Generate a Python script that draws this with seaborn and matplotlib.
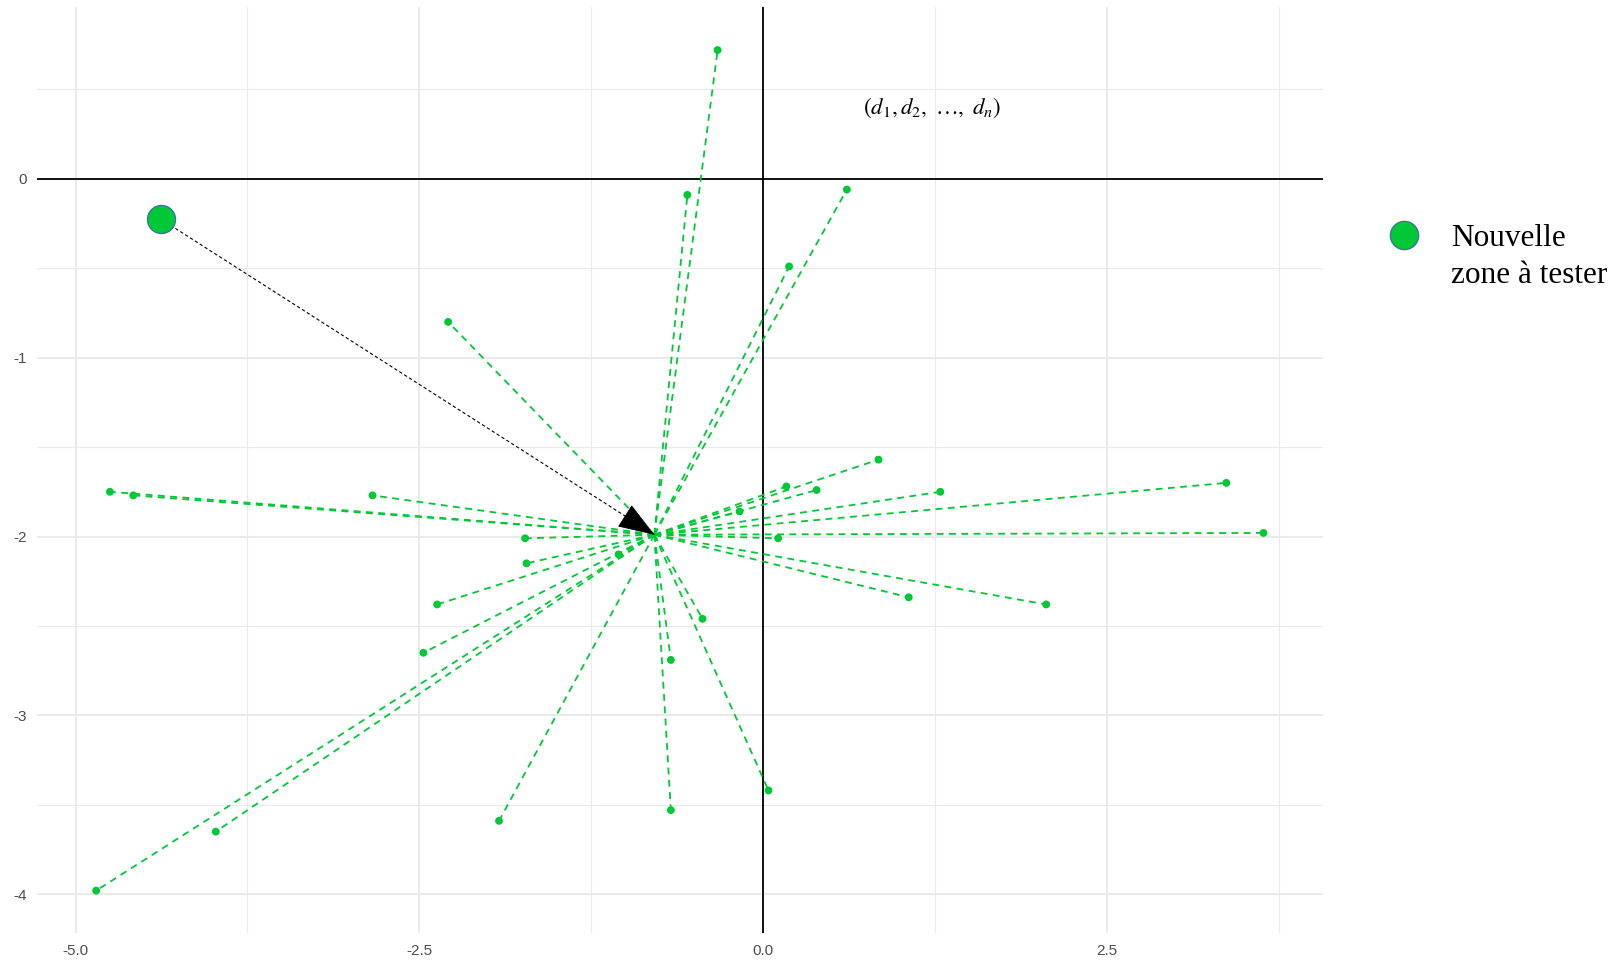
import matplotlib
matplotlib.use("Agg")
import matplotlib.pyplot as plt
from matplotlib.lines import Line2D
from matplotlib.ticker import FixedLocator
import numpy as np
import pandas as pd
import seaborn as sns

# Centre of the star: the projected position of the reference profile
hub_x = -0.79
hub_y = -1.99

# Observed zones (end of each distance segment)
zone_x = [-0.33, -0.55, 0.61, 0.19, -2.29, -4.75, -4.58, -2.84, 0.84, 0.17,
          0.39, 1.29, 3.37, -0.17, 3.64, 0.11, -1.73, -1.72, -1.05, 1.06,
          2.06, -2.37, -2.47, -0.44, -0.67, -3.98, -4.85, -1.92, -0.67, 0.04]
zone_y = [0.72, -0.09, -0.06, -0.49, -0.80, -1.75, -1.77, -1.77, -1.57, -1.72,
          -1.74, -1.75, -1.70, -1.86, -1.98, -2.01, -2.01, -2.15, -2.10, -2.34,
          -2.38, -2.38, -2.65, -2.46, -2.69, -3.65, -3.98, -3.59, -3.53, -3.42]

# New zone to be tested
new_x = -4.38
new_y = -0.225

label_text = r"$(d_1,d_2,\ \ldots,\ d_n)$"
label_x = 1.23
label_y = 0.40
legend_label = ["Nouvelle", "zone à tester"]

x_major = [-5.0, -2.5, 0.0, 2.5]
x_major_labels = ["-5.0", "-2.5", "0.0", "2.5"]
x_minor = [-3.75, -1.25, 1.25, 3.75]
y_major = [-4, -3, -2, -1, 0]
y_major_labels = ["-4", "-3", "-2", "-1", "0"]
y_minor = [-3.5, -2.5, -1.5, -0.5, 0.5]

GREEN = "#00C837"
EDGE = "#3F6DB0"
GRID = "#EBEAEB"

sns.set_style("white")
plt.rcParams["mathtext.fontset"] = "stix"

fig = plt.figure(figsize=(16.18, 9.61), dpi=100)
ax = fig.add_axes([0.0229, 0.0295, 0.7945, 0.9627])

# segments from the centre to every zone, in long form
seg = pd.DataFrame({
    "seg": np.repeat(np.arange(len(zone_x)), 2),
    "x": np.ravel(np.column_stack([np.full(len(zone_x), hub_x), zone_x])),
    "y": np.ravel(np.column_stack([np.full(len(zone_y), hub_y), zone_y])),
})
pts = pd.DataFrame({"x": zone_x, "y": zone_y})

ax.axhline(0, color="black", lw=1.3, zorder=2)
ax.axvline(0, color="black", lw=1.3, zorder=2)

sns.lineplot(data=seg, x="x", y="y", units="seg", estimator=None, sort=False,
             color=GREEN, lw=1.3, linestyle=(0, (3.8, 3.0)), ax=ax, zorder=3)
sns.scatterplot(data=pts, x="x", y="y", color=GREEN, s=32, edgecolor="none",
                ax=ax, zorder=4)

# dashed arrow from the new zone to the centre
ax.plot([new_x, hub_x], [new_y, hub_y], color="black", lw=0.8,
        linestyle=(0, (3.0, 2.2)), zorder=3)
frac = 0.01
ax.annotate("", xy=(hub_x, hub_y),
            xytext=(hub_x - frac * (hub_x - new_x), hub_y - frac * (hub_y - new_y)),
            arrowprops=dict(arrowstyle="-|>,head_length=1.0,head_width=0.36",
                            mutation_scale=24, color="black", lw=0.6,
                            shrinkA=0, shrinkB=0), zorder=5)

sns.scatterplot(x=[new_x], y=[new_y], s=410, color=GREEN, edgecolor=EDGE,
                linewidth=0.9, ax=ax, zorder=6)

ax.text(label_x, label_y, label_text, fontsize=16.5, ha="center", va="center",
        color="black", zorder=6)

ax.set_xlim(-5.28, 4.07)
ax.set_ylim(-4.215, 0.958)
ax.xaxis.set_major_locator(FixedLocator(x_major))
ax.xaxis.set_minor_locator(FixedLocator(x_minor))
ax.yaxis.set_major_locator(FixedLocator(y_major))
ax.yaxis.set_minor_locator(FixedLocator(y_minor))
ax.set_xticklabels(x_major_labels)
ax.set_yticklabels(y_major_labels)
ax.grid(which="major", color=GRID, lw=1.4, zorder=0)
ax.grid(which="minor", color=GRID, lw=0.8, zorder=0)
ax.set_axisbelow(True)
ax.tick_params(which="both", length=0)
ax.tick_params(axis="y", pad=7, labelsize=11, labelcolor="#4D4D4D")
ax.tick_params(axis="x", pad=8, labelsize=11, labelcolor="#4D4D4D")
for lab in ax.get_xticklabels() + ax.get_yticklabels():
    lab.set_family("Liberation Sans")
for s in ax.spines.values():
    s.set_visible(False)
ax.set_xlabel("")
ax.set_ylabel("")

# legend key for the new zone
fig.add_artist(Line2D([0.8679], [0.7555], transform=fig.transFigure,
                      marker="o", markersize=20.4, markerfacecolor=GREEN,
                      markeredgecolor=EDGE, markeredgewidth=0.9, linestyle="none"))
fig.text(0.8968, 0.7443, legend_label[0], family="Liberation Serif",
         fontsize=22.5, va="baseline", ha="left", color="black")
fig.text(0.8968, 0.7052, legend_label[1], family="Liberation Serif",
         fontsize=22.5, va="baseline", ha="left", color="black")

fig.savefig("out.png", dpi=100)
